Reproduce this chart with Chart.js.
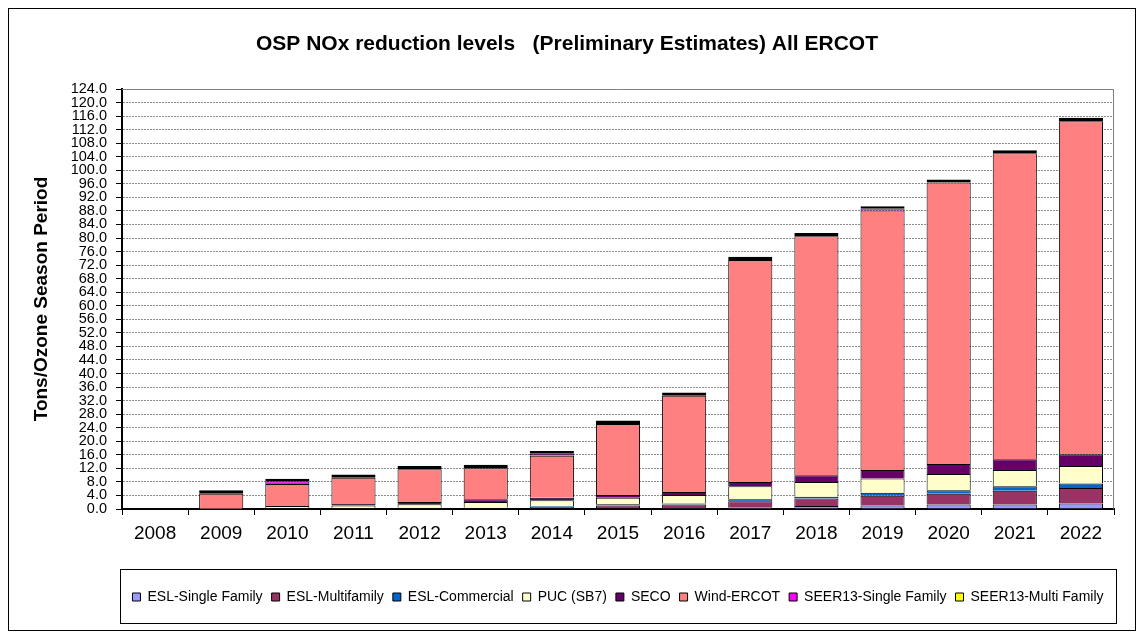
<!DOCTYPE html>
<html>
<head>
<meta charset="utf-8">
<script src="https://cdn.jsdelivr.net/npm/chart.js@4.4.1/dist/chart.umd.min.js"></script>
<style>
html,body{margin:0;padding:0;background:#fff;}
#wrap{width:1144px;height:635px;position:relative;}
</style>
</head>
<body>
<div id="wrap"><canvas id="c"></canvas></div>
<script>
const years = ['2008','2009','2010','2011','2012','2013','2014','2015','2016','2017','2018','2019','2020','2021','2022'];
const seriesNames = ['ESL-Single Family','ESL-Multifamily','ESL-Commercial','PUC (SB7)','SECO','Wind-ERCOT','SEER13-Single Family','SEER13-Multi Family'];
const eslSingleFamily = [0,0,0,0,0,0,0.2,0.2,0.3,0.4,0.9,1.0,1.3,1.3,1.6];
const eslMultifamily  = [0,0,0.3,0.3,0.3,0.3,0.5,0.8,1.0,1.9,2.2,2.9,3.2,4.1,4.6];
const eslCommercial   = [0,0,0,0,0.1,0.1,0.2,0.4,0.3,0.6,0.5,0.9,1.0,1.3,1.3];
const pucSb7          = [0,0.1,0.6,0.7,1.0,1.7,1.7,1.9,2.5,3.8,4.4,4.2,4.8,4.8,5.2];
const seco            = [0,0,0,0.5,0.7,0.8,0.7,0.8,0.9,1.3,2.0,2.5,3.0,3.2,3.5];
const windErcot       = [0,4.4,6.5,7.7,9.6,9.1,12.4,21.0,28.4,65.5,70.5,76.6,83.1,90.3,98.3];
const seer13Single    = [0,0,0.8,0,0,0,0.6,0,0,0,0,0.7,0,0,0];
const seer13Multi     = [0,1.0,0.7,1.0,1.0,1.1,0.8,1.0,1.0,1.0,1.0,0.6,0.9,0.9,1.0];
const seriesColors = ['#9999FF','#993366','#0066CC','#FFFFCC','#660066','#FF8080','#FF00FF','#FFFF00'];
const yMin = 0, yMax = 124, yStep = 4;

const FONT = "'Liberation Sans', Arial, sans-serif";
const allSeries = [eslSingleFamily, eslMultifamily, eslCommercial, pucSb7, seco, windErcot, seer13Single, seer13Multi];

const datasets = allSeries.map((vals, i) => {
  const isTop = i === allSeries.length - 1;
  return {
    label: seriesNames[i],
    data: vals,
    backgroundColor: seriesColors[i],
    borderColor: '#000',
    borderWidth: isTop ? 2 : 1,
    borderSkipped: isTop ? false : 'start',
    categoryPercentage: 1.0,
    barPercentage: 0.667
  };
});

const frames = {
  id: 'frames',
  beforeDatasetsDraw(chart) {
    const {ctx, chartArea: a} = chart;
    ctx.save();
    ctx.strokeStyle = '#808080';
    ctx.lineWidth = 1;
    ctx.setLineDash([]);
    ctx.beginPath();
    ctx.moveTo(a.left, Math.round(a.top) + 0.5);
    ctx.lineTo(Math.round(a.right) - 0.5, Math.round(a.top) + 0.5);
    ctx.lineTo(Math.round(a.right) - 0.5, a.bottom);
    ctx.stroke();
    ctx.restore();
  },
  afterDraw(chart) {
    const {ctx, chartArea: a} = chart;
    ctx.save();
    ctx.strokeStyle = '#000';
    ctx.lineWidth = 1;
    ctx.strokeRect(8.5, 8.5, chart.width - 17, chart.height - 13);
    const l = Math.round(a.left) - 2 + 0.5, r = Math.round(a.right) + 2 + 0.5;
    const t = Math.round(a.bottom) + 60 + 0.5, b = Math.round(a.bottom) + 114 + 0.5;
    ctx.strokeRect(l, t, r - l, b - t);
    ctx.restore();
  }
};

new Chart(document.getElementById('c'), {
  type: 'bar',
  data: { labels: years, datasets },
  plugins: [frames],
  options: {
    responsive: true,
    maintainAspectRatio: false,
    animation: false,
    layout: { padding: { top: 0, left: 20, right: 30, bottom: 21 } },
    plugins: {
      title: {
        display: true,
        text: 'OSP NOx reduction levels   (Preliminary Estimates) All ERCOT',
        color: '#000',
        font: { family: FONT, size: 21, weight: 'bold' },
        padding: { top: 31.5, bottom: 32.3 }
      },
      legend: {
        display: true,
        position: 'bottom',
        fullSize: false,
        labels: {
          color: '#000',
          font: { family: FONT, size: 14 },
          boxWidth: 8,
          boxHeight: 8,
          padding: 9,
          generateLabels(chart) {
            const items = Chart.defaults.plugins.legend.labels.generateLabels(chart);
            items.forEach(it => { it.lineWidth = 1; it.strokeStyle = '#000'; });
            return items;
          }
        }
      },
      tooltip: { enabled: false }
    },
    scales: {
      x: {
        stacked: true,
        afterFit(s) { s.height = 72; },
        grid: { display: true, drawOnChartArea: false, drawTicks: true, tickLength: 6, color: '#000', offset: true },
        border: { display: true, color: '#000', width: 2 },
        ticks: { color: '#000', font: { family: FONT, size: 19 }, padding: 7, maxRotation: 0, autoSkip: false }
      },
      y: {
        stacked: true,
        min: yMin,
        max: yMax,
        afterFit(s) { s.width = 102; },
        grid: { color: '#8c8c8c', lineWidth: 1, drawTicks: true, tickLength: 6, tickColor: '#000' },
        border: { display: true, color: '#000', width: 2, dash: [2, 1] },
        ticks: {
          stepSize: yStep,
          autoSkip: false,
          color: '#000',
          padding: 9,
          font: { family: FONT, size: 14.5 },
          callback: v => Number(v).toFixed(1)
        },
        title: {
          display: true,
          text: 'Tons/Ozone Season Period',
          color: '#000',
          font: { family: FONT, size: 19, weight: 'bold' },
          padding: { top: 10.5, bottom: 0 }
        }
      }
    }
  }
});
</script>
</body>
</html>
